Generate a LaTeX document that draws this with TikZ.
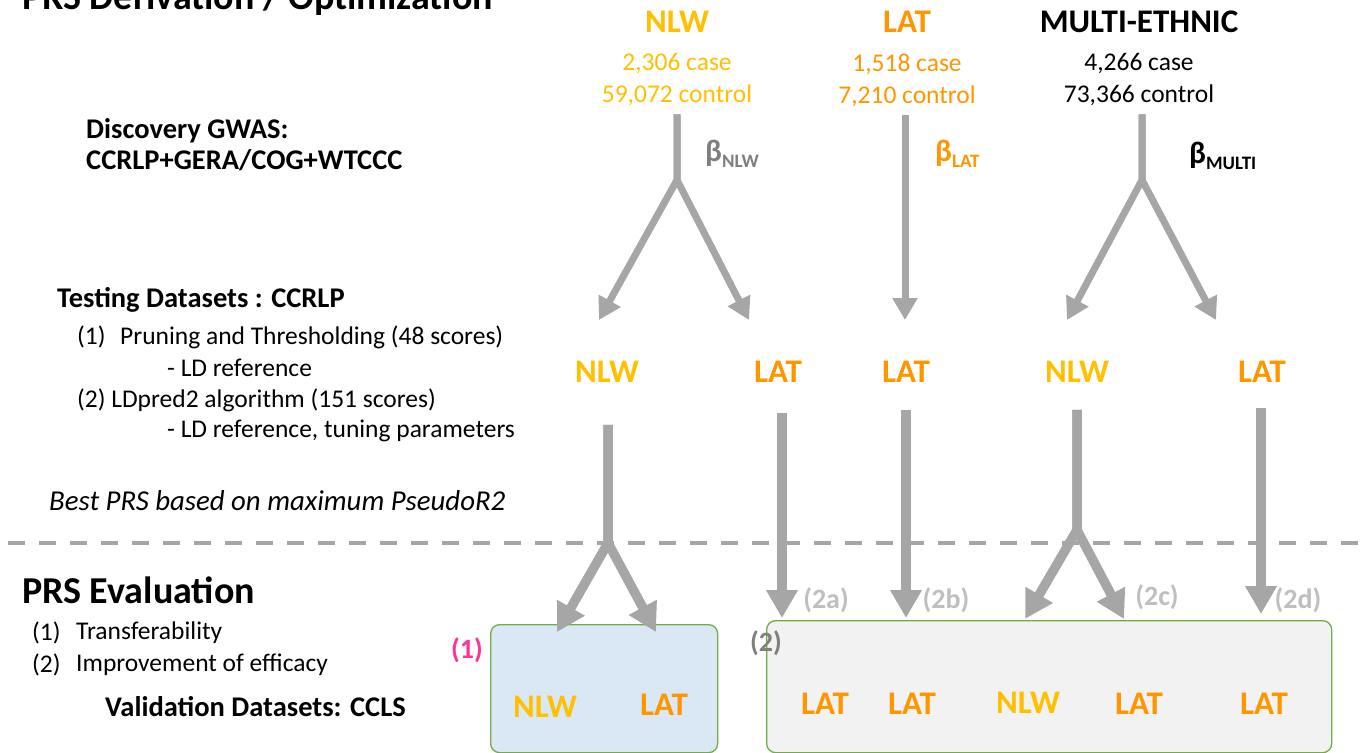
\documentclass[tikz,border=0pt]{standalone}
\usepackage{fontspec}
\setmainfont{Carlito}
\usetikzlibrary{arrows.meta}
\definecolor{nlwc}{RGB}{255,192,0}
\definecolor{latc}{RGB}{255,150,0}
\definecolor{arrg}{RGB}{166,166,166}
\definecolor{lgray}{RGB}{191,191,191}
\definecolor{dgray}{RGB}{127,127,127}
\definecolor{pinkc}{RGB}{255,51,153}
\definecolor{boxblue}{RGB}{218,232,245}
\definecolor{boxgray}{RGB}{242,242,242}
\definecolor{boxgreen}{RGB}{112,173,71}
\begin{document}
\begin{tikzpicture}[x=1pt,y=-1pt,
  lbl/.style={font=\bfseries\fontsize{33pt}{36pt}\selectfont, inner sep=0pt},
  num/.style={font=\fontsize{25.5pt}{32pt}\selectfont, align=center, inner sep=0pt},
  txt/.style={font=\fontsize{25.5pt}{31pt}\selectfont, anchor=west, inner sep=0pt},
  btxt/.style={font=\bfseries\fontsize{28.5pt}{31pt}\selectfont, anchor=west, inner sep=0pt, align=left},
  ttl/.style={font=\bfseries\fontsize{38pt}{42pt}\selectfont, inner sep=0pt},
  betal/.style={font=\bfseries\fontsize{31pt}{34pt}\selectfont, anchor=west, inner sep=0pt},
  tag/.style={font=\bfseries\fontsize{28pt}{30pt}\selectfont, inner sep=0pt},
  uparr/.style={draw=arrg, line width=7pt, line join=round, -{Triangle[width=24pt,length=22pt]}},
  lowarr/.style={draw=arrg, line width=9.5pt, line join=round, -{Triangle[width=30pt,length=28pt]}},
  boxst/.style={draw=boxgreen, line width=1.3pt, rounded corners=9pt, anchor=north west, inner sep=0pt}
]
\useasboundingbox (0,0) rectangle (1362,752);
\fill[white] (0,0) rectangle (1362,752);

% title (cut at top, as in the reference)
\node[ttl, anchor=base west] (title) at (22,10) {PRS Derivation / Optimization};

% discovery GWAS
\node[lbl, text=nlwc] (t1) at (677,22) {NLW};
\node[num, text=nlwc] (c1) at (677,80) {2,306 case\\59,072 control};
\node[lbl, text=latc] (t2) at (907,22) {LAT};
\node[num, text=latc] (c2) at (907,80) {1,518 case\\7,210 control};
\node[lbl] (t3) at (1139,22) {MULTI-ETHNIC};
\node[num] (c3) at (1139,80) {4,266 case\\73,366 control};

\node[betal, text=dgray] (bn) at (705,154) {β\raisebox{-6pt}{\fontsize{19pt}{20pt}\selectfont NLW}};
\node[betal, text=latc] (bl) at (935,154) {β\raisebox{-6pt}{\fontsize{19pt}{20pt}\selectfont LAT}};
\node[betal] (bm) at (1189,156) {β\raisebox{-6pt}{\fontsize{19pt}{20pt}\selectfont MULTI}};

\node[btxt] (disc) at (86,145) {Discovery GWAS:\\CCRLP+GERA/COG+WTCCC};

% testing datasets
\node[lbl, text=nlwc] (m1) at (607,372) {NLW};
\node[lbl, text=latc] (m2) at (778,372) {LAT};
\node[lbl, text=latc] (m3) at (906,372) {LAT};
\node[lbl, text=nlwc] (m4) at (1077,372) {NLW};
\node[lbl, text=latc] (m5) at (1262,372) {LAT};

\node[btxt] (test) at (57,300) {Testing Datasets : CCRLP};
\node[txt] (l1n) at (77,337) {(1)};
\node[txt] (l1) at (120,337) {Pruning and Thresholding (48 scores)};
\node[txt] (l1s) at (167,368) {- LD reference};
\node[txt] (l2) at (77,400) {(2) LDpred2 algorithm (151 scores)};
\node[txt] (l2s) at (167,431) {- LD reference, tuning parameters};
\node[txt, font=\itshape\fontsize{28.8pt}{32pt}\selectfont] (best) at (49,501) {Best PRS based on maximum PseudoR2};

% separator
\draw[arrg, line width=4.5pt, dash pattern=on 17pt off 14pt] (8,543) -- (1362,543);

% evaluation
\node[ttl, anchor=west] (eval) at (22,590) {PRS Evaluation};
\node[txt] (e1n) at (32,633) {(1)};
\node[txt] (e1) at (76,633) {Transferability};
\node[txt] (e2n) at (32,665) {(2)};
\node[txt] (e2) at (76,665) {Improvement of efficacy};
\node[btxt] (valid) at (105,707) {Validation Datasets: CCLS};

% validation boxes
\node[boxst, fill=boxblue, minimum width=227pt, minimum height=128pt] (v1) at (490,624) {};
\node[boxst, fill=boxgray, minimum width=565pt, minimum height=132pt] (v2) at (766,620) {};

\node[tag, text=pinkc] (g1) at (467,650) {(1)};
\node[tag, text=dgray] (g2) at (766,643) {(2)};
\node[tag, text=lgray] (g2a) at (826,600) {(2a)};
\node[tag, text=lgray] (g2b) at (946,600) {(2b)};
\node[tag, text=lgray] (g2c) at (1157,597) {(2c)};
\node[tag, text=lgray] (g2d) at (1298,600) {(2d)};

\node[lbl, text=nlwc] (v1a) at (545,707) {NLW};
\node[lbl, text=latc] (v1b) at (664,705) {LAT};
\node[lbl, text=latc] (v2a) at (825,704) {LAT};
\node[lbl, text=latc] (v2b) at (912,704) {LAT};
\node[lbl, text=nlwc] (v2c) at (1028,703) {NLW};
\node[lbl, text=latc] (v2d) at (1139,704) {LAT};
\node[lbl, text=latc] (v2e) at (1264,704) {LAT};

% coordinates
\coordinate (f1) at (677,180);
\coordinate (a1) at (599,320);
\coordinate (a2) at (749,320);
\coordinate (a3) at (905,320);
\coordinate (f2) at (1142,180);
\coordinate (a4) at (1067,320);
\coordinate (a5) at (1216,320);

\coordinate (f3) at (608,543);
\coordinate (b1) at (557,632);
\coordinate (b2) at (656,632);
\coordinate (b3) at (782,618);
\coordinate (b4) at (906,618);
\coordinate (f4) at (1077,530);
\coordinate (b5) at (1025,619);
\coordinate (b6) at (1124,619);
\coordinate (b7) at (1261,614);

% upper arrows
\draw[uparr, shorten <=8pt] (c1.south -| f1) -- (f1) -- (a1);
\draw[uparr, shorten <=8pt] (c1.south -| f1) -- (f1) -- (a2);
\draw[uparr, shorten <=8pt] (c2.south -| a3) -- (a3);
\draw[uparr, shorten <=8pt] (c3.south -| f2) -- (f2) -- (a4);
\draw[uparr, shorten <=8pt] (c3.south -| f2) -- (f2) -- (a5);

% lower arrows
\draw[lowarr, shorten <=42pt] (m1.south -| f3) -- (f3) -- (b1);
\draw[lowarr, shorten <=42pt] (m1.south -| f3) -- (f3) -- (b2);
\draw[lowarr, shorten <=30pt] (m2.south -| b3) -- (b3);
\draw[lowarr, shorten <=27pt] (m3.south -| b4) -- (b4);
\draw[lowarr, shorten <=27pt] (m4.south -| f4) -- (f4) -- (b5);
\draw[lowarr, shorten <=27pt] (m4.south -| f4) -- (f4) -- (b6);
\draw[lowarr, shorten <=25pt] (m5.south -| b7) -- (b7);
\end{tikzpicture}
\end{document}
